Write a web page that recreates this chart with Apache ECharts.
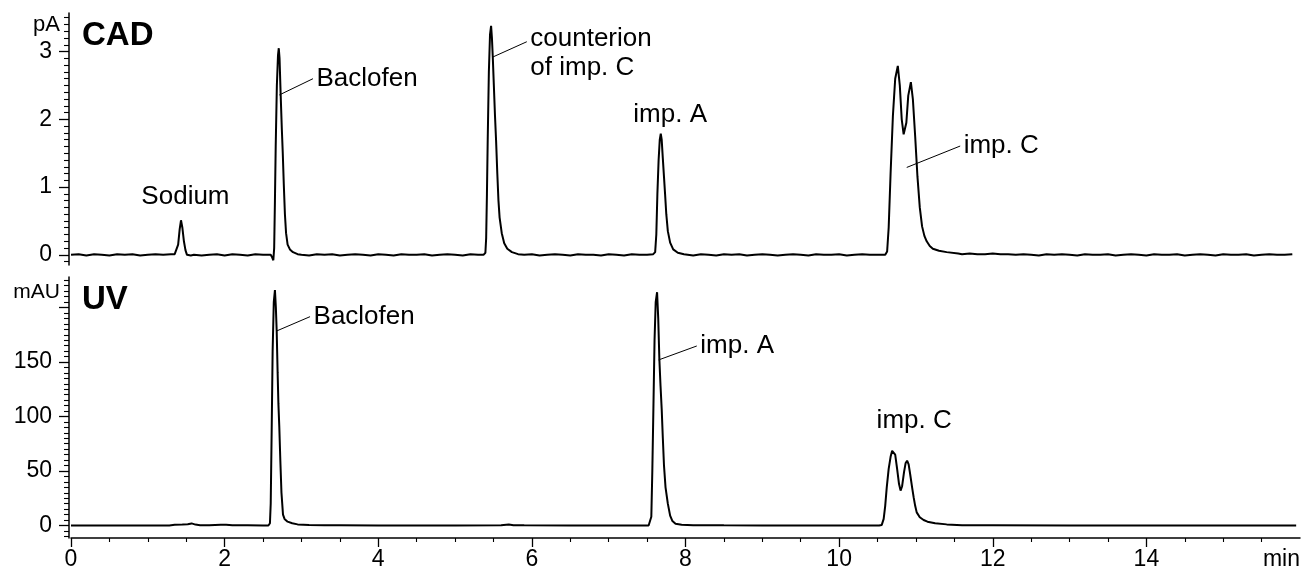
<!DOCTYPE html>
<html>
<head>
<meta charset="utf-8">
<title>CAD / UV chromatogram</title>
<script src="https://cdn.jsdelivr.net/npm/echarts@6/dist/echarts.min.js"></script>
<style>
  html, body { margin: 0; padding: 0; background: #fff; }
  #chart { width: 1311px; height: 571px; }
</style>
</head>
<body>
<div id="chart"></div>
<script>
// ---- data ----
// time in min, CAD signal in pA, UV signal in mAU

// CAD baseline noise, one value every 0.1 min from 0 min
const cadNoiseStep = 0.1;
const cadNoise = [
  0.00, 0.01, -0.01, 0.01, 0.00, -0.01, 0.01, 0.00, 0.01, -0.01,
  0.00, 0.01, 0.00, 0.01, 0.00, 0.00, -0.02, -0.01, 0.00, 0.01,
  -0.01, 0.01, 0.00, -0.01, 0.01, 0.00, 0.00, 0.00, 0.00, 0.01,
  0.00, -0.01, 0.01, 0.00, 0.01, -0.01, 0.00, 0.01, 0.00, -0.01,
  0.01, 0.00, -0.01, 0.01, 0.00, 0.00, 0.01, -0.01, 0.00, 0.01,
  0.00, -0.01, 0.01, 0.00, 0.00, 0.00, 0.02, 0.01, 0.01, 0.00,
  0.01, -0.01, 0.00, 0.01, 0.00, -0.01, 0.01, 0.00, 0.00, -0.01,
  0.01, 0.00, -0.01, 0.01, 0.00, 0.00, 0.00, 0.00, 0.00, 0.01,
  0.00, -0.01, 0.01, 0.00, -0.01, 0.01, 0.00, 0.01, -0.01, 0.00,
  0.01, 0.00, -0.01, 0.00, 0.01, 0.00, -0.01, 0.01, 0.00, 0.00,
  0.01, -0.01, 0.00, 0.01, 0.00, 0.00, 0.00, 0.00, 0.00, 0.00,
  0.00, 0.00, 0.00, 0.00, 0.01, 0.02, 0.01, 0.02, 0.01, 0.01,
  0.02, 0.01, 0.01, 0.00, 0.01, 0.00, -0.01, 0.01, 0.00, 0.01,
  0.00, -0.01, 0.01, 0.00, 0.00, 0.01, -0.01, 0.00, 0.01, 0.00,
  -0.01, 0.01, 0.00, 0.00, 0.01, -0.01, 0.00, 0.01, 0.00, -0.01,
  0.01, 0.00, 0.00, 0.01, -0.01, 0.00, 0.01, 0.00, 0.00, 0.01
];

const cadSodium = [
  [1.35, 0.01], [1.375, 0.03], [1.395, 0.15], [1.415, 0.38], [1.432, 0.51], [1.45, 0.40],
  [1.47, 0.20], [1.49, 0.07], [1.51, 0.00], [1.53, -0.02], [1.56, -0.01], [1.60, 0.00]
];
const cadBaclofen = [
  [2.60, 0.00], [2.62, -0.04], [2.634, -0.08], [2.645, 0.10], [2.655, 0.80], [2.665, 1.60],
  [2.68, 2.50], [2.695, 2.95], [2.705, 3.05], [2.715, 2.90], [2.73, 2.35], [2.745, 1.85],
  [2.757, 1.50], [2.77, 1.05], [2.785, 0.60], [2.80, 0.32], [2.82, 0.15], [2.85, 0.08],
  [2.89, 0.04], [2.95, 0.01]
];
const cadCounterion = [
  [5.37, 0.00], [5.395, 0.03], [5.405, 0.25], [5.415, 0.90], [5.425, 1.69], [5.44, 2.70],
  [5.455, 3.25], [5.469, 3.38], [5.48, 3.20], [5.491, 2.92], [5.505, 2.50], [5.52, 2.05],
  [5.534, 1.69], [5.55, 1.20], [5.565, 0.80], [5.58, 0.55], [5.608, 0.32], [5.64, 0.17],
  [5.68, 0.09], [5.74, 0.04], [5.82, 0.01]
];
const cadImpA = [
  [7.58, 0.01], [7.605, 0.04], [7.62, 0.30], [7.634, 0.90], [7.65, 1.40], [7.665, 1.70],
  [7.678, 1.79], [7.69, 1.70], [7.705, 1.42], [7.72, 1.15], [7.734, 0.90], [7.75, 0.60],
  [7.77, 0.35], [7.80, 0.18], [7.84, 0.08], [7.90, 0.03], [7.98, 0.01]
];
const cadImpC = [
  [10.60, 0.00], [10.625, 0.05], [10.645, 0.40], [10.67, 1.20], [10.70, 2.05], [10.73, 2.60],
  [10.764, 2.79], [10.79, 2.50], [10.815, 2.00], [10.84, 1.78], [10.855, 1.76], [10.875, 1.95],
  [10.90, 2.35], [10.934, 2.55], [10.96, 2.30], [10.99, 1.75], [11.02, 1.15], [11.05, 0.70],
  [11.08, 0.42], [11.11, 0.28], [11.14, 0.20], [11.18, 0.13], [11.22, 0.09], [11.30, 0.06],
  [11.40, 0.04], [11.55, 0.02]
];

const uvBaseline = [
  [0, 0], [0.5, 0.05], [1.0, 0], [1.28, 0], [1.35, 0.6], [1.45, 0.8], [1.52, 1.2], [1.57, 1.9],
  [1.62, 0.8], [1.68, 0.3], [1.8, 0.2], [1.95, 0.7], [2.02, 0.6], [2.1, 0.2], [2.3, 0.1], [2.5, 0],
  [3.5, 0.1], [4.0, 0.05], [5.0, 0], [5.6, 0.1], [5.7, 0.9], [5.76, 0.3], [5.9, 0.1], [6.5, 0],
  [7.0, 0], [7.45, 0], [8.5, 0.1], [9.0, 0], [10.0, 0], [10.45, 0], [12.0, 0.1], [13.0, 0],
  [14.0, 0], [15.0, 0], [15.95, 0]
];
const uvBaclofen = [
  [2.57, 0], [2.59, 2], [2.60, 20], [2.613, 90], [2.625, 160], [2.64, 205], [2.655, 216],
  [2.667, 200], [2.678, 178], [2.69, 140], [2.70, 112], [2.712, 90], [2.725, 60], [2.74, 30],
  [2.76, 10], [2.78, 6], [2.82, 3.5], [2.88, 2], [2.95, 1], [3.1, 0.4], [3.3, 0.1]
];
const uvImpA = [
  [7.52, 0], [7.54, 1], [7.555, 8], [7.568, 50], [7.582, 107], [7.597, 170], [7.612, 205],
  [7.63, 214], [7.645, 190], [7.66, 152], [7.675, 128], [7.69, 107], [7.705, 80], [7.72, 55],
  [7.74, 35], [7.77, 20], [7.80, 9], [7.83, 4], [7.87, 1.5], [7.95, 0.7], [8.1, 0.3]
];
const uvImpC = [
  [10.52, 0], [10.555, 0.5], [10.58, 6], [10.60, 18], [10.62, 35], [10.645, 52], [10.67, 63],
  [10.69, 68.5], [10.71, 69.5], [10.73, 65], [10.755, 52], [10.78, 38], [10.80, 32], [10.82, 36],
  [10.845, 49], [10.865, 57], [10.885, 59.5], [10.905, 56], [10.925, 47], [10.95, 35], [10.97, 26],
  [10.99, 18], [11.01, 12], [11.05, 7.5], [11.1, 5], [11.15, 3.5], [11.25, 2], [11.4, 1],
  [11.6, 0.3], [11.8, 0.1]
];

// axis ticks
const xTicks = [0, 2, 4, 6, 8, 10, 12, 14, 16];
const cadTicks = [0, 1, 2, 3];
const uvTicks = [0, 50, 100, 150, 200];
const uvTickLabels = [0, 50, 100, 150];

// peak labels: text, leader line start (on peak), anchor of text
const cadLabels = [
  { text: 'Sodium', at: [1.49, 0.85], pos: 'inside' },
  { text: 'Baclofen', from: [2.712, 2.36], at: [3.15, 2.60], pos: 'right' },
  { text: 'counterion\nof imp. C', from: [5.491, 2.92], at: [5.934, 3.146], pos: 'right', twoLines: true },
  { text: 'imp. A', at: [7.80, 2.06], pos: 'inside' },
  { text: 'imp. C', from: [10.88, 1.29], at: [11.576, 1.606], pos: 'right' }
];
const uvLabels = [
  { text: 'Baclofen', from: [2.678, 178.5], at: [3.112, 191.6], pos: 'right' },
  { text: 'imp. A', from: [7.65, 151.9], at: [8.147, 164.7], pos: 'right' },
  { text: 'imp. C', at: [10.977, 95.9], pos: 'inside' }
];

// ---- build ----
const FONT = '"Liberation Sans", Arial, Helvetica, sans-serif';

function mergeTrace(baseline, peaks) {
  const pts = baseline.filter(p => !peaks.some(pk => p[0] >= pk[0][0] && p[0] <= pk[pk.length - 1][0]));
  peaks.forEach(pk => pts.push(...pk));
  return pts.sort((a, b) => a[0] - b[0]);
}

const cadBaseline = cadNoise.map((v, i) => [Math.round(i * cadNoiseStep * 100) / 100, v]);
const cadTrace = mergeTrace(cadBaseline, [cadSodium, cadBaclofen, cadCounterion, cadImpA, cadImpC]);
const uvTrace = mergeTrace(uvBaseline, [uvBaclofen, uvImpA, uvImpC]);

function leaderLines(labels) {
  return labels.filter(l => l.from).map(l => [{ coord: l.from }, { coord: l.at }]);
}
function labelPoints(labels) {
  return labels.map(l => ({
    coord: l.at,
    value: l.text,
    label: {
      position: l.pos,
      distance: 3,
      offset: l.twoLines ? [0, 12] : [0, 0]
    }
  }));
}

function traceSeries(data, labels, idx) {
  return {
    type: 'line',
    xAxisIndex: idx,
    yAxisIndex: idx,
    data: data,
    showSymbol: false,
    symbol: 'none',
    sampling: false,
    silent: true,
    animation: false,
    lineStyle: { color: '#000', width: 2 },
    markLine: {
      silent: true,
      animation: false,
      symbol: ['none', 'none'],
      label: { show: false },
      lineStyle: { color: '#000', width: 1, type: 'solid' },
      emphasis: { disabled: true },
      data: leaderLines(labels)
    },
    markPoint: {
      silent: true,
      animation: false,
      symbol: 'circle',
      symbolSize: 1,
      itemStyle: { color: 'rgba(0,0,0,0)' },
      label: {
        show: true,
        formatter: p => p.value,
        color: '#000',
        fontFamily: FONT,
        fontSize: 26,
        lineHeight: 29
      },
      data: labelPoints(labels)
    }
  };
}

const yAxisBase = {
  type: 'value',
  offset: 2,
  splitLine: { show: false },
  axisLine: { show: true, onZero: false, lineStyle: { color: '#000', width: 1.5 } },
  axisTick: { show: true, inside: false, length: 10, lineStyle: { color: '#000', width: 1.3 } },
  minorTick: { show: true, splitNumber: 10, length: 5, lineStyle: { color: '#000', width: 1.1 } },
  axisLabel: { color: '#000', fontFamily: FONT, fontSize: 23, margin: 17 }
};

const chart = echarts.init(document.getElementById('chart'), null, { renderer: 'canvas' });

chart.setOption({
  animation: false,
  backgroundColor: '#fff',
  grid: [
    { left: 71, right: 11, top: 13, height: 252 },
    { left: 71, right: 11, top: 277, height: 261 }
  ],
  xAxis: [
    {
      type: 'value', gridIndex: 0, min: 0, max: 16, interval: 2, show: false
    },
    {
      type: 'value', gridIndex: 1, min: 0, max: 16, interval: 2,
      splitLine: { show: false },
      axisLine: { show: true, onZero: false, lineStyle: { color: '#000', width: 1.5 } },
      axisTick: { show: true, length: 9, customValues: xTicks.slice(0, -1), lineStyle: { color: '#000', width: 1.3 } },
      minorTick: { show: true, splitNumber: 4, length: 4, lineStyle: { color: '#000', width: 1.1 } },
      axisLabel: {
        color: '#000', fontFamily: FONT, fontSize: 23, margin: 10,
        customValues: xTicks,
        alignMaxLabel: 'right',
        formatter: v => (v === 16 ? 'min' : String(v))
      }
    }
  ],
  yAxis: [
    Object.assign({}, yAxisBase, {
      gridIndex: 0, min: -0.15, max: 3.57,
      axisTick: Object.assign({}, yAxisBase.axisTick, { customValues: cadTicks }),
      minorTick: Object.assign({}, yAxisBase.minorTick, { splitNumber: 10 }),
      axisLabel: Object.assign({}, yAxisBase.axisLabel, { customValues: cadTicks })
    }),
    Object.assign({}, yAxisBase, {
      gridIndex: 1, min: -11.5, max: 228,
      axisTick: Object.assign({}, yAxisBase.axisTick, { customValues: uvTicks }),
      minorTick: Object.assign({}, yAxisBase.minorTick, { splitNumber: 10 }),
      axisLabel: Object.assign({}, yAxisBase.axisLabel, { customValues: uvTickLabels })
    })
  ],
  graphic: [
    { type: 'text', x: 82, y: 36, silent: true,
      style: { text: 'CAD', font: 'bold 33px ' + FONT, fill: '#000', align: 'left', verticalAlign: 'middle' } },
    { type: 'text', x: 82, y: 300, silent: true,
      style: { text: 'UV', font: 'bold 33px ' + FONT, fill: '#000', align: 'left', verticalAlign: 'middle' } },
    { type: 'text', x: 60, y: 25, silent: true,
      style: { text: 'pA', font: '22px ' + FONT, fill: '#000', align: 'right', verticalAlign: 'middle' } },
    { type: 'text', x: 60, y: 292, silent: true,
      style: { text: 'mAU', font: '21px ' + FONT, fill: '#000', align: 'right', verticalAlign: 'middle' } }
  ],
  series: [
    traceSeries(cadTrace, cadLabels, 0),
    traceSeries(uvTrace, uvLabels, 1)
  ]
});
</script>
</body>
</html>
